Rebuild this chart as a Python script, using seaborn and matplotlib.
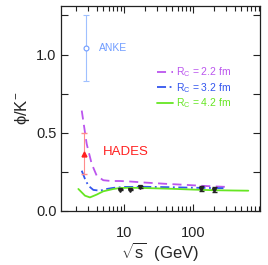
import numpy as np
import pandas as pd
import matplotlib
matplotlib.use("Agg")
import matplotlib.pyplot as plt
import seaborn as sns
from matplotlib.ticker import LogLocator, FixedLocator, NullFormatter, FixedFormatter

# model curves (sqrt(s) in GeV, phi/K- ratio)
x_22 = [2.44, 2.88, 3.40, 4.02, 5.0, 6.5, 8.75, 12, 20, 40, 80, 150, 310]
y_22 = [0.641, 0.427, 0.30, 0.224, 0.195, 0.19, 0.19, 0.187, 0.18, 0.172, 0.165, 0.158, 0.152]

x_32 = [2.44, 2.72, 3.04, 3.59, 4.49, 5.61, 7.0, 10, 20, 50, 100, 200, 290]
y_32 = [0.256, 0.203, 0.16, 0.133, 0.128, 0.139, 0.146, 0.152, 0.153, 0.15, 0.147, 0.145, 0.144]

x_42 = [2.18, 2.72, 3.21, 4.02, 5.0, 7.0, 8.75, 12, 20, 50, 100, 200, 400, 630]
y_42 = [0.139, 0.096, 0.085, 0.103, 0.124, 0.139, 0.145, 0.147, 0.145, 0.14, 0.135, 0.131, 0.129, 0.128]

# data points
anke_x, anke_y, anke_err = [2.83], [1.04], [0.21]
hades_x, hades_y, hades_err = [2.61], [0.365], [0.13]
aa_x = [8.8, 12.3, 17.3, 130, 200]
aa_y = [0.135, 0.135, 0.15, 0.14, 0.135]
aa_err = [0.005, 0.005, 0.005, 0.017, 0.017]

sns.set_style("ticks")
plt.rcParams['font.family'] = ['Liberation Sans', 'DejaVu Sans']
plt.rcParams['mathtext.fontset'] = 'custom'
plt.rcParams['mathtext.rm'] = 'Liberation Sans'

fig = plt.figure(figsize=(2.68, 2.65), dpi=100)
ax = fig.add_axes([0.2265, 0.205, 0.7435, 0.772])

c22, c32, c42 = "#bb55ee", "#3355ee", "#66e622"

df22 = pd.DataFrame({"x": x_22, "y": y_22})
df32 = pd.DataFrame({"x": x_32, "y": y_32})
df42 = pd.DataFrame({"x": x_42, "y": y_42})

sns.lineplot(data=df22, x="x", y="y", ax=ax, color=c22, lw=1.3,
             linestyle=(0, (5, 3)), label="R$_\\mathrm{C}$ = 2.2 fm")
sns.lineplot(data=df32, x="x", y="y", ax=ax, color=c32, lw=1.3,
             linestyle=(0, (5, 2, 1, 2)), label="R$_\\mathrm{C}$ = 3.2 fm")
sns.lineplot(data=df42, x="x", y="y", ax=ax, color=c42, lw=1.3,
             linestyle="-", label="R$_\\mathrm{C}$ = 4.2 fm")

ax.errorbar(anke_x, anke_y, yerr=anke_err, fmt="o", mfc="white", mec="#6f9cff",
            ecolor="#9fc0ff", ms=3.5, mew=0.8, elinewidth=0.8, capsize=2.5)
ax.errorbar(hades_x, hades_y, yerr=hades_err, fmt="^", color="#ff2020",
            ecolor="#ff8c8c", ms=3.5, elinewidth=0.8, capsize=2.5)
ax.errorbar(aa_x, aa_y, yerr=aa_err, fmt="v", color="#222222",
            ms=2.8, elinewidth=0.6, capsize=1.8)

ax.text(4.3, 1.04, "ANKE", color="#6f9cff", fontsize=7.5, va="center", ha="left")
ax.text(4.97, 0.378, "HADES", color="#ff2020", fontsize=9.5, va="center", ha="left")

ax.set_xscale("log")
ax.set_xlim(1.21, 930)
ax.set_ylim(0, 1.31)

ax.xaxis.set_major_locator(FixedLocator([10, 100]))
ax.xaxis.set_major_formatter(FixedFormatter(["10", "100"]))
ax.xaxis.set_minor_locator(LogLocator(base=10, subs=np.arange(2, 10)))
ax.xaxis.set_minor_formatter(NullFormatter())
ax.yaxis.set_major_locator(FixedLocator([0, 0.5, 1.0]))
ax.yaxis.set_major_formatter(FixedFormatter(["0.0", "0.5", "1.0"]))
ax.yaxis.set_minor_locator(FixedLocator([0.25, 0.75, 1.25]))

ax.tick_params(which="both", direction="in", top=True, right=True,
               colors="#222222", labelsize=10.5, width=0.8)
ax.tick_params(which="major", length=5, pad=11)
ax.tick_params(which="minor", length=3.5)
ax.tick_params(axis="y", which="major", pad=3)
ax.tick_params(axis="y", which="minor", length=5)
for s in ax.spines.values():
    s.set_linewidth(0.9)
    s.set_color("#222222")

ax.set_xlabel("$\\sqrt{\\mathrm{s}}$  (GeV)", fontsize=12, labelpad=0)
ax.set_ylabel("ϕ/K$^{-}$", fontsize=12, labelpad=3)

leg = ax.legend(frameon=False, loc="upper left", bbox_to_anchor=(0.46, 0.73),
                handlelength=1.6, handletextpad=0.3, labelspacing=0.15,
                fontsize=7.5, labelcolor="linecolor", borderaxespad=0)

fig.savefig("out.png", dpi=100)
